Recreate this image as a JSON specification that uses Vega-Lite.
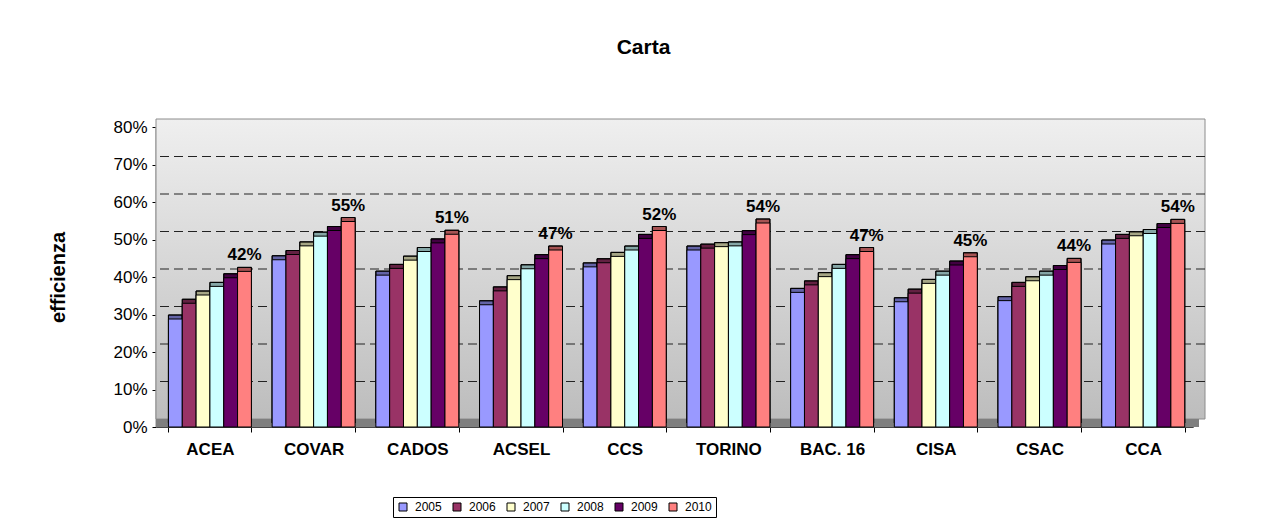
{
  "$schema": "https://vega.github.io/schema/vega-lite/v6.json",
  "width": 1037,
  "height": 300,
  "autosize": "none",
  "padding": {"left": 156, "top": 127, "right": 71, "bottom": 97},
  "background": "white",
  "title": {"text": "Carta", "fontSize": 21, "fontWeight": "bold", "font": "Liberation Sans", "color": "black", "frame": "group", "anchor": "middle", "offset": 43, "baseline": "alphabetic", "dx": -31},
  "config": {"font": "Liberation Sans", "view": {"stroke": null}},
  "data": {"values": [
    {"site": "ACEA", "year": "2005", "value": 0.288}, {"site": "ACEA", "year": "2006", "value": 0.330}, {"site": "ACEA", "year": "2007", "value": 0.352}, {"site": "ACEA", "year": "2008", "value": 0.375}, {"site": "ACEA", "year": "2009", "value": 0.398}, {"site": "ACEA", "year": "2010", "value": 0.415},
    {"site": "COVAR", "year": "2005", "value": 0.446}, {"site": "COVAR", "year": "2006", "value": 0.460}, {"site": "COVAR", "year": "2007", "value": 0.483}, {"site": "COVAR", "year": "2008", "value": 0.509}, {"site": "COVAR", "year": "2009", "value": 0.524}, {"site": "COVAR", "year": "2010", "value": 0.548},
    {"site": "CADOS", "year": "2005", "value": 0.405}, {"site": "CADOS", "year": "2006", "value": 0.423}, {"site": "CADOS", "year": "2007", "value": 0.445}, {"site": "CADOS", "year": "2008", "value": 0.468}, {"site": "CADOS", "year": "2009", "value": 0.491}, {"site": "CADOS", "year": "2010", "value": 0.514},
    {"site": "ACSEL", "year": "2005", "value": 0.326}, {"site": "ACSEL", "year": "2006", "value": 0.363}, {"site": "ACSEL", "year": "2007", "value": 0.393}, {"site": "ACSEL", "year": "2008", "value": 0.422}, {"site": "ACSEL", "year": "2009", "value": 0.449}, {"site": "ACSEL", "year": "2010", "value": 0.472},
    {"site": "CCS", "year": "2005", "value": 0.427}, {"site": "CCS", "year": "2006", "value": 0.438}, {"site": "CCS", "year": "2007", "value": 0.455}, {"site": "CCS", "year": "2008", "value": 0.472}, {"site": "CCS", "year": "2009", "value": 0.503}, {"site": "CCS", "year": "2010", "value": 0.524},
    {"site": "TORINO", "year": "2005", "value": 0.472}, {"site": "TORINO", "year": "2006", "value": 0.477}, {"site": "TORINO", "year": "2007", "value": 0.481}, {"site": "TORINO", "year": "2008", "value": 0.483}, {"site": "TORINO", "year": "2009", "value": 0.513}, {"site": "TORINO", "year": "2010", "value": 0.544},
    {"site": "BAC. 16", "year": "2005", "value": 0.359}, {"site": "BAC. 16", "year": "2006", "value": 0.379}, {"site": "BAC. 16", "year": "2007", "value": 0.401}, {"site": "BAC. 16", "year": "2008", "value": 0.423}, {"site": "BAC. 16", "year": "2009", "value": 0.449}, {"site": "BAC. 16", "year": "2010", "value": 0.468},
    {"site": "CISA", "year": "2005", "value": 0.334}, {"site": "CISA", "year": "2006", "value": 0.357}, {"site": "CISA", "year": "2007", "value": 0.383}, {"site": "CISA", "year": "2008", "value": 0.405}, {"site": "CISA", "year": "2009", "value": 0.432}, {"site": "CISA", "year": "2010", "value": 0.454},
    {"site": "CSAC", "year": "2005", "value": 0.337}, {"site": "CSAC", "year": "2006", "value": 0.375}, {"site": "CSAC", "year": "2007", "value": 0.390}, {"site": "CSAC", "year": "2008", "value": 0.405}, {"site": "CSAC", "year": "2009", "value": 0.420}, {"site": "CSAC", "year": "2010", "value": 0.439},
    {"site": "CCA", "year": "2005", "value": 0.488}, {"site": "CCA", "year": "2006", "value": 0.503}, {"site": "CCA", "year": "2007", "value": 0.510}, {"site": "CCA", "year": "2008", "value": 0.516}, {"site": "CCA", "year": "2009", "value": 0.532}, {"site": "CCA", "year": "2010", "value": 0.543}
  ]},
  "layer": [
    {
      "data": {"values": [{"lo": 0, "hi": 0.8}]},
      "mark": {"type": "rect", "color": {"gradient": "linear", "x1": 0, "y1": 0, "x2": 0, "y2": 1, "stops": [{"offset": 0, "color": "#e4e4e4"}, {"offset": 1, "color": "#b8b8b8"}]}, "stroke": "#8c8c8c", "strokeWidth": 1},
      "encoding": {
        "y": {"field": "lo", "type": "quantitative", "scale": {"domain": [0, 0.8]}},
        "y2": {"field": "hi"}
      }
    },
    {
      "data": {"values": [{"lo": 0, "hi": 0.8}]},
      "mark": {"type": "rect", "color": {"gradient": "linear", "x1": 0, "y1": 0, "x2": 0, "y2": 1, "stops": [{"offset": 0, "color": "#efefef"}, {"offset": 1, "color": "#bdbdbd"}]}, "stroke": "#8c8c8c", "strokeWidth": 1, "xOffset": 12, "x2Offset": 12, "yOffset": -8, "y2Offset": -8},
      "encoding": {
        "y": {"field": "lo", "type": "quantitative"},
        "y2": {"field": "hi"}
      }
    },
    {
      "data": {"values": [{"g": 0.1}, {"g": 0.2}, {"g": 0.3}, {"g": 0.4}, {"g": 0.5}, {"g": 0.6}, {"g": 0.7}]},
      "mark": {"type": "rule", "color": "#222222", "strokeWidth": 1, "strokeDash": [9, 5], "xOffset": 12, "x2Offset": 12, "yOffset": -8},
      "encoding": {"y": {"field": "g", "type": "quantitative"}}
    },
    {
      "data": {"values": [{"g": 0}]},
      "mark": {"type": "rule", "color": "#7f7f7f", "strokeWidth": 8, "xOffset": 6, "x2Offset": 6, "yOffset": -4},
      "encoding": {"y": {"field": "g", "type": "quantitative"}}
    },
    {
      "mark": {"type": "bar", "xOffset": 4, "yOffset": -4, "y2Offset": -4, "stroke": "black", "strokeWidth": 1},
      "encoding": {
        "x": {"field": "site", "type": "nominal", "sort": null, "scale": {"paddingInner": 0.2, "paddingOuter": 0.1, "align": 0.6}, "axis": {"title": null, "labelAngle": 0, "labelFontSize": 17, "labelFontWeight": "bold", "labelColor": "black", "labelPadding": 9, "domainColor": "black", "tickColor": "black", "tickSize": 5, "tickBand": "extent"}},
        "xOffset": {"field": "year", "type": "nominal", "sort": null},
        "y": {"field": "value", "type": "quantitative"},
        "color": {"field": "year", "type": "nominal", "sort": null, "scale": {"domain": ["2005", "2006", "2007", "2008", "2009", "2010"], "range": ["#9999ff", "#993366", "#ffffcc", "#ccffff", "#660066", "#ff8080"]}, "legend": {"orient": "none", "legendX": 237, "legendY": 370, "direction": "horizontal", "columns": 6, "title": null, "strokeColor": "black", "fillColor": "white", "padding": 4, "symbolType": "square", "symbolSize": 64, "symbolStrokeColor": "black", "symbolStrokeWidth": 1, "labelFontSize": 12, "labelColor": "black", "labelOffset": 6, "columnPadding": 9}}
      }
    },
    {
      "mark": {"type": "bar", "xOffset": 4, "yOffset": -4, "y2Offset": -4, "fill": "black", "fillOpacity": 0.35, "stroke": "black", "strokeWidth": 1},
      "encoding": {
        "x": {"field": "site", "type": "nominal", "sort": null},
        "xOffset": {"field": "year", "type": "nominal", "sort": null},
        "y": {"field": "value", "type": "quantitative"}
      }
    },
    {
      "mark": {"type": "bar", "stroke": "black", "strokeWidth": 1},
      "encoding": {
        "x": {"field": "site", "type": "nominal", "sort": null},
        "xOffset": {"field": "year", "type": "nominal", "sort": null},
        "y": {"field": "value", "type": "quantitative", "axis": {"values": [0, 0.1, 0.2, 0.3, 0.4, 0.5, 0.6, 0.7, 0.8], "tickCount": 9, "format": ".0%", "labelOverlap": false, "labelFontSize": 17, "labelColor": "black", "labelPadding": 5, "domainColor": "black", "tickColor": "black", "tickSize": 4, "grid": false, "title": "efficienza", "titleFontSize": 20, "titleFontWeight": "bold", "titleColor": "black", "titlePadding": 44}},
        "color": {"field": "year", "type": "nominal", "sort": null}
      }
    },
    {
      "transform": [{"filter": "datum.year === '2010'"}],
      "mark": {"type": "text", "fontSize": 17, "fontWeight": "bold", "color": "black", "baseline": "alphabetic", "dy": -11},
      "encoding": {
        "x": {"field": "site", "type": "nominal", "sort": null},
        "xOffset": {"field": "year", "type": "nominal", "sort": null},
        "y": {"field": "value", "type": "quantitative"},
        "text": {"field": "value", "type": "quantitative", "format": ".0%"}
      }
    }
  ]
}
